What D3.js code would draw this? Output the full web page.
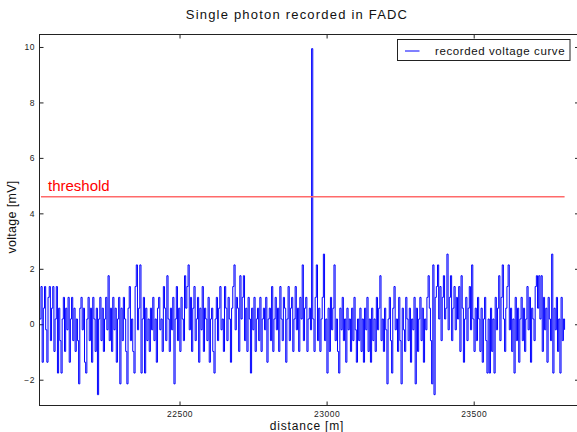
<!DOCTYPE html>
<html>

<head>
    <meta charset="utf-8">
    <style>
        body {
            margin: 0;
            background: white;
        }

        svg {
            display: block;
            font-family: 'Liberation Sans', Arial, Helvetica, sans-serif;
        }

        .tick text {
            fill: #222;
            font-size: 8.5px;
            letter-spacing: 0.5px;
        }

        .tick line {
            stroke: #222;
        }
    </style>
</head>

<body>
    <svg width="577" height="432"></svg>

    <script src="https://d3js.org/d3.v7.min.js"></script>

    <script>
        // FADC trace (mV), one sample every 4 m
        let distStart = 22025
        let distStep = 4
        let voltage = [
            0.19, 1.36, -1.37, 0.58, 1.36, -0.2, -1.37, 0.97, 1.36, -0.59,
            0.58, 1.36, -0.98, 0.19, 1.36, -1.76, 0.58, -0.59, -1.76, 0.19,
            0.97, -0.98, 0.58, -0.2, 0.97, -1.37, 0.19, 0.97, -0.59, 0.58,
            -0.98, 0.19, -0.59, -2.15, 0.58, 0.97, -0.2, 0.58, -1.37, -1.76,
            0.19, 0.97, -0.59, 0.58, -1.37, 0.97, 0.19, -0.98, 0.58, -2.54,
            0.19, 0.97, -0.59, 0.58, -0.98, 0.19, 0.97, -0.2, 1.75, -0.59,
            0.58, -0.98, 0.97, -0.2, 0.58, -1.37, 0.19, 0.97, -2.15, 0.58,
            -0.59, 0.97, 0.19, -0.98, -2.15, 0.58, 1.36, -0.59, 0.19, -0.98,
            -1.76, 1.36, 2.14, -0.2, 0.58, 2.14, -1.76, 0.19, 0.97, -1.76,
            0.58, -0.59, 0.19, -0.98, 0.58, -0.2, 0.97, -0.59, 0.19, -1.37,
            0.58, 0.97, -0.2, 0.19, -0.98, 1.36, 0.58, -0.59, 1.75, 0.19,
            -0.98, 0.58, -0.2, 0.97, -2.15, 0.19, 1.36, -0.59, 0.58, -0.98,
            0.97, 0.19, -0.59, 1.75, 0.58, 1.36, 2.14, -0.2, 0.97, -0.98,
            0.58, 1.36, -0.59, 0.19, 0.97, -1.37, 0.58, -0.2, 1.36, -0.98,
            0.58, 0.19, -0.59, 0.97, -1.37, 0.19, 0.58, -0.98, -1.76, 0.19,
            0.97, -0.59, 0.58, 1.36, -0.2, 0.19, -0.98, 1.36, 0.58, -0.59,
            0.97, 0.19, -1.37, 0.58, 1.36, 2.14, -0.2, 0.97, 0.58, -0.98,
            1.75, 0.19, 0.97, 1.75, -0.59, 0.58, -0.98, 0.97, 0.19, -1.76,
            0.58, -0.2, 0.97, -0.98, 0.19, 0.58, -0.59, 0.97, -0.98, 0.19,
            0.58, -0.2, 0.97, -1.37, 0.19, 0.58, -0.59, 1.36, -0.98, 0.19,
            0.97, -0.2, 0.58, -0.98, 1.36, 0.19, -0.59, 0.97, 0.58, -1.37,
            0.19, 1.36, -0.59, 0.58, 0.97, -0.98, 0.19, 1.36, -0.2, 0.58,
            -0.98, 0.97, 0.19, 2.14, -0.59, 0.58, 0.97, -0.98, 0.19, 0.58,
            -0.2, 9.94, 0.19, -0.98, 0.97, 2.14, -0.59, 0.58, -0.98, 0.19,
            0.97, 2.53, -0.59, 0.19, -1.76, 0.58, -0.98, 0.97, -0.2, 0.58,
            2.14, -0.59, 0.19, -0.98, -1.76, 0.58, -0.2, 0.97, -0.59, 0.19,
            -1.37, 0.58, -0.2, 0.19, -0.98, 0.58, -0.59, 0.97, -0.2, -1.37,
            0.19, -0.59, 0.58, -0.98, 0.19, -1.37, 0.58, -0.2, 0.97, -0.98,
            0.19, -1.37, 0.58, -0.59, 0.19, -0.98, 0.97, -0.2, 0.58, 1.75,
            -0.59, 0.19, -0.98, 0.58, -0.2, -2.15, 0.19, 0.97, -0.59, -1.76,
            0.58, 1.36, -0.2, 0.19, -0.98, 0.97, -0.59, -2.15, 0.58, -0.2,
            -0.98, 0.97, 0.19, -0.59, 0.58, -1.37, 0.19, -0.2, 0.97, -2.15,
            0.58, -0.98, 0.19, 0.97, -0.59, 0.58, -1.37, 0.19, -0.2, 0.97,
            1.75, 0.58, -0.59, -2.15, 2.14, -2.54, 0.97, 1.36, 2.14, 0.19,
            1.36, -0.59, 0.97, 1.75, 0.19, 0.58, 2.53, -0.2, 0.97, 1.75,
            -0.59, 0.58, 1.36, -0.2, 0.97, 0.19, 1.36, -0.98, 1.75, 0.58,
            -1.37, 0.19, 0.97, -0.59, 0.58, 1.36, -0.2, 2.14, 0.19, -0.98,
            0.58, -0.59, 0.97, 0.19, -0.98, 0.58, -1.37, 0.19, 0.97, -0.59,
            -1.76, 0.19, -1.76, 0.58, -0.98, 0.19, -1.76, 0.97, -0.2, 0.58,
            1.75, -0.59, 0.97, 2.14, 0.19, -0.98, 0.58, 1.36, 2.14, -0.2,
            0.58, -0.98, 0.19, -1.76, 0.97, -0.59, 0.58, -1.37, 0.19, 0.97,
            -0.59, 0.58, -0.98, 0.19, 1.36, -0.2, 0.97, -1.37, 0.58, 0.19,
            -0.59, 1.36, 1.75, 0.58, 1.75, 0.19, 1.75, -0.98, 0.97, -0.2,
            0.58, -1.37, 0.97, 0.19, -0.59, 2.53, -1.76, 0.58, -0.2, 0.97,
            -0.98, 0.19, -1.76, 0.97, -0.59, 0.19, -0.2
        ]
        let threshold = 4.6

        let xTicks = [22500, 23000, 23500]
        let yTicks = [-2, 0, 2, 4, 6, 8, 10]

        let svg = d3.select("svg")

        // plot box in pixels
        let boxLeft = 39.5, boxRight = 579, boxTop = 34.5, boxBottom = 405.5

        let x = d3.scaleLinear()
            .domain([22024, 23858])
            .range([boxLeft, boxRight])

        let y = d3.scaleLinear()
            .domain([-2.93, 10.45])
            .range([boxBottom, boxTop])

        let trace = voltage.map((v, i) => [distStart + i * distStep, v])

        svg.append("defs").append("clipPath")
            .attr("id", "plot-clip")
            .append("rect")
            .attr("x", boxLeft).attr("y", boxTop)
            .attr("width", boxRight - boxLeft).attr("height", boxBottom - boxTop)

        // title
        svg.append("text")
            .attr("x", 297)
            .attr("y", 19)
            .attr("text-anchor", "middle")
            .style("font-size", "13px")
            .style("letter-spacing", "1.2px")
            .style("fill", "#111")
            .text("Single photon recorded in FADC")

        // axes, ticks pointing inwards on all four sides
        svg.append("g")
            .attr("transform", `translate(0,${boxBottom})`)
            .call(d3.axisBottom(x).tickValues(xTicks).tickSize(-4).tickPadding(5.5).tickFormat(d3.format("d")))
            .call(g => g.select(".domain").remove())

        svg.append("g")
            .attr("transform", `translate(0,${boxTop})`)
            .call(d3.axisTop(x).tickValues(xTicks).tickSize(-4).tickFormat(""))
            .call(g => g.select(".domain").remove())

        svg.append("g")
            .attr("transform", `translate(${boxLeft},0)`)
            .call(d3.axisLeft(y).tickValues(yTicks).tickSize(-4).tickPadding(4.5).tickFormat(d => d < 0 ? "\u2212" + (-d) : d))
            .call(g => g.select(".domain").remove())

        svg.append("g")
            .attr("transform", `translate(${boxRight},0)`)
            .call(d3.axisRight(y).tickValues(yTicks).tickSize(-4).tickFormat(""))
            .call(g => g.select(".domain").remove())

        // voltage trace, FADC bins drawn as steps
        let line = d3.line()
            .curve(d3.curveStepAfter)
            .x(d => x(d[0]))
            .y(d => y(d[1]))

        svg.append("path")
            .datum(trace)
            .attr("d", line)
            .attr("clip-path", "url(#plot-clip)")
            .style("fill", "none")
            .style("stroke", "#0000ff")
            .style("stroke-width", 1)

        // threshold
        svg.append("line")
            .attr("x1", x(distStart + 4))
            .attr("x2", x(trace[trace.length - 1][0]))
            .attr("y1", y(threshold))
            .attr("y2", y(threshold))
            .style("stroke", "#ff6a6a")
            .style("stroke-width", 1.6)

        svg.append("text")
            .attr("x", 48)
            .attr("y", y(threshold) - 6)
            .style("font-size", "15px")
            .style("fill", "#ff0000")
            .text("threshold")

        // frame
        svg.append("rect")
            .attr("x", boxLeft).attr("y", boxTop)
            .attr("width", boxRight - boxLeft).attr("height", boxBottom - boxTop)
            .style("fill", "none")
            .style("stroke", "#222")
            .style("stroke-width", 1)

        // legend
        let legend = svg.append("g")

        legend.append("rect")
            .attr("x", 397.5).attr("y", 39.5)
            .attr("width", 172.5).attr("height", 21)
            .style("fill", "white")
            .style("stroke", "#222")
            .style("stroke-width", 1)

        legend.append("line")
            .attr("x1", 405).attr("x2", 419.5)
            .attr("y1", 51).attr("y2", 51)
            .style("stroke", "#0000ff")
            .style("stroke-width", 1)

        legend.append("text")
            .attr("x", 435)
            .attr("y", 55)
            .style("font-size", "11.5px")
            .style("letter-spacing", "0.6px")
            .style("fill", "#111")
            .text("recorded voltage curve")

        // axis labels
        svg.append("text")
            .attr("x", 307)
            .attr("y", 430)
            .attr("text-anchor", "middle")
            .style("font-size", "12px")
            .style("letter-spacing", "0.8px")
            .style("fill", "#111")
            .text("distance [m]")

        svg.append("text")
            .attr("transform", `translate(16,${(boxTop + boxBottom) / 2 - 3}) rotate(-90)`)
            .attr("text-anchor", "middle")
            .style("font-size", "12.5px")
            .style("letter-spacing", "0.3px")
            .style("fill", "#111")
            .text("voltage [mV]")
    </script>
</body>

</html>
